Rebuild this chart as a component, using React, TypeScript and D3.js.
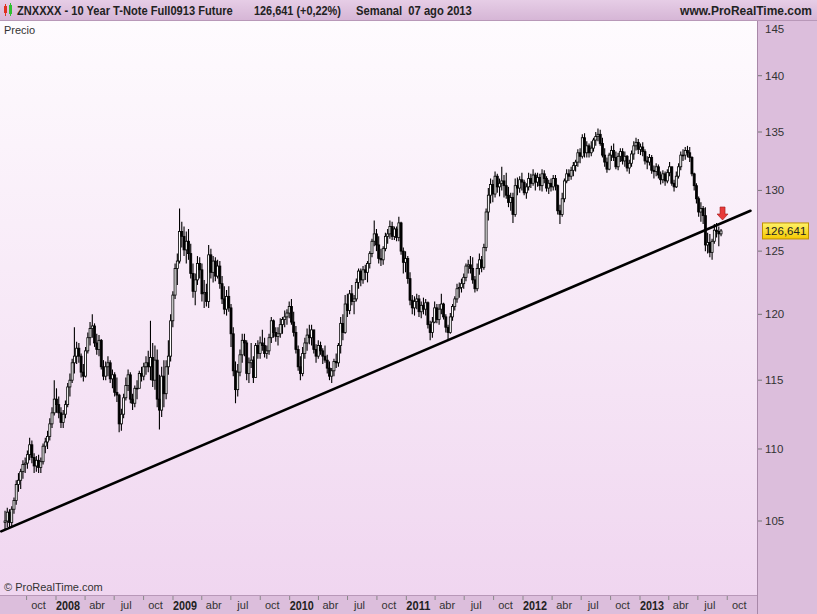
import React, { useLayoutEffect, useRef, useState } from 'react';
import * as d3 from 'd3';

// ---------- DATA (weekly bars, [high, low, close]) ----------
const firstWeek = '2007-06-18';
const firstOpen = 104.9;

const weeks2007: number[][] = [
  [105.7,104.4,105.0],[105.9,104.6,105.6],[105.8,104.5,104.9],[106.0,104.6,105.8],[106.6,105.5,106.4],
  [107.8,106.1,107.5],[108.3,107.0,107.8],[108.6,107.2,108.4],[109.2,107.9,108.9],[109.4,108.3,109.0],
  [109.9,108.6,109.6],[110.8,109.2,110.3],[110.6,109.0,109.4],[109.7,108.3,108.8],[109.5,108.4,109.2],
  [109.6,108.3,108.7],[109.4,108.3,109.1],[110.4,108.9,110.2],[110.8,109.7,110.5],[111.3,110.0,110.9],
  [112.2,110.6,111.8],[113.0,111.5,112.6],[115.0,112.4,113.6],[114.4,112.6,113.2],[113.8,112.2,112.6],
  [113.0,111.5,111.9],[112.8,111.5,112.5],[113.5,112.2,113.2],[114.8,113.0,114.5],
];
const weeks2008: number[][] = [
  [115.5,113.8,115.0],[116.6,114.8,116.3],[119.0,115.5,116.8],[117.9,116.2,117.4],
  [117.8,116.3,116.8],[117.0,115.2,115.6],[116.2,114.9,115.3],[117.5,115.2,117.2],
  [118.6,117.0,118.2],[119.4,117.6,118.9],[120.0,118.2,119.1],[119.3,117.5,117.8],[118.5,116.9,117.3],
  [118.4,116.8,118.0],[118.1,115.8,116.0],[116.5,115.0,115.3],[116.4,115.0,116.0],
  [116.8,115.3,116.3],[116.5,114.8,115.1],[115.8,114.4,115.4],[115.6,113.8,114.1],
  [115.2,113.4,113.9],[114.0,111.2,111.8],[112.9,111.3,112.5],[114.0,112.2,113.7],[115.2,113.5,114.6],
  [115.8,114.2,115.4],[115.6,113.3,113.6],[114.0,112.8,113.3],[114.6,113.0,114.4],
  [115.0,113.6,114.4],[115.7,114.4,115.5],[116.0,114.9,115.3],[116.3,115.0,116.0],
  [116.8,115.4,116.3],[117.2,115.6,116.0],[119.5,115.0,116.7],[117.8,114.5,115.0],[117.6,114.3,116.5],
  [117.3,113.0,113.6],[115.4,111.4,112.8],[116.0,112.3,115.3],[116.5,113.0,114.0],
  [116.5,113.6,116.0],[118.0,115.4,116.8],[120.0,116.4,119.5],[121.8,119.0,121.5],
  [124.0,121.2,123.6],[124.8,122.3,124.2],[128.5,124.0,126.6],[127.4,125.3,126.2],[127.0,124.6,125.1],
];
const weeks2009: number[][] = [
  [126.6,124.0,125.8],[126.8,124.3,124.8],[125.6,122.8,123.2],[124.0,121.3,121.8],
  [123.2,120.7,122.7],[124.6,122.3,124.0],[124.5,122.8,123.5],[124.0,121.0,121.6],
  [122.7,120.5,121.7],[122.4,120.6,121.0],[125.5,120.5,124.7],[125.2,122.8,123.3],[124.6,122.5,124.2],
  [124.5,122.6,123.0],[124.3,122.8,123.8],[124.2,122.0,122.4],[123.0,120.8,121.2],
  [122.2,120.0,120.4],[121.9,119.9,121.4],[122.2,120.2,120.5],[120.8,117.5,118.5],
  [119.0,115.3,115.7],[116.4,113.3,114.3],[116.2,113.8,115.6],[117.3,115.3,116.9],[118.5,116.3,118.0],
  [118.5,116.8,117.8],[118.0,115.0,115.5],[116.7,114.8,116.3],[117.8,115.9,116.5],
  [116.8,114.8,115.2],[117.8,115.2,117.6],[118.0,116.6,117.0],[118.3,116.6,117.8],[118.8,117.2,117.6],
  [118.2,116.7,117.0],[117.6,116.6,117.2],[118.5,116.9,118.2],[119.8,117.8,119.5],
  [119.6,118.2,118.6],[119.0,117.9,118.3],[119.0,117.6,118.5],[119.7,118.2,119.2],
  [119.8,118.5,119.6],[120.3,119.0,119.8],[120.4,119.2,120.1],[121.0,119.7,120.6],[121.2,119.2,119.4],
  [120.2,118.3,118.6],[119.1,117.0,117.3],[117.6,115.7,116.0],[116.8,115.0,115.5],
];
const weeks2010: number[][] = [
  [117.5,115.3,117.0],[118.2,116.6,117.8],[118.9,117.2,118.4],[119.2,117.7,118.2],
  [119.2,117.6,118.8],[118.7,117.0,117.3],[117.7,116.3,116.8],[118.0,116.6,117.6],
  [117.9,116.9,117.2],[117.4,116.2,116.8],[117.6,116.3,116.5],[116.9,115.5,115.9],[116.4,115.0,115.3],
  [115.9,114.8,115.7],[116.6,115.3,116.4],[117.0,115.9,116.3],[117.8,116.0,117.6],
  [119.8,117.0,119.3],[120.0,118.0,118.6],[121.5,118.5,120.8],[121.6,119.8,120.3],[121.9,120.0,121.6],
  [122.3,120.7,121.0],[121.5,120.0,121.2],[122.8,121.0,122.5],[123.6,122.0,123.4],
  [123.6,122.2,122.7],[123.8,122.4,123.5],[123.9,122.7,123.3],[124.2,122.5,124.0],
  [125.0,123.6,124.8],[126.0,124.5,125.8],[127.5,125.4,126.4],[126.8,125.0,125.5],[126.2,124.0,124.4],
  [125.2,123.8,124.3],[125.4,123.9,125.2],[126.5,125.0,126.2],[126.8,125.6,126.4],
  [127.5,126.0,127.0],[127.4,125.9,126.2],[127.0,125.9,126.8],[127.0,125.8,126.1],
  [127.8,125.8,127.3],[127.4,124.7,125.0],[125.3,123.2,124.1],[125.0,123.3,124.4],[124.6,122.4,122.8],
  [123.3,120.7,121.1],[121.5,120.0,120.5],[121.4,119.9,121.0],[121.6,120.4,121.2],
];
const weeks2011: number[][] = [
  [121.5,119.8,120.2],[121.0,119.7,120.7],[121.3,120.0,120.4],[121.2,119.9,120.9],[121.0,118.9,119.2],
  [119.5,118.0,118.6],[119.8,118.2,119.4],[121.0,119.3,120.5],[120.8,119.3,119.6],
  [120.8,119.2,120.4],[121.6,120.0,120.8],[120.9,119.6,119.8],[120.0,118.6,119.0],
  [119.2,118.0,118.6],[120.1,118.5,119.8],[120.8,119.5,120.6],[121.4,120.3,121.2],
  [122.4,120.9,122.0],[122.5,121.3,122.1],[122.8,121.7,122.4],[123.2,122.0,122.9],[124.0,122.6,123.8],
  [124.3,123.2,123.9],[124.6,123.2,123.6],[124.5,122.4,122.7],[123.0,121.7,122.0],
  [124.0,121.8,123.6],[124.8,123.1,124.3],[124.6,123.3,123.7],[125.6,123.5,125.3],
  [128.5,125.0,128.2],[130.2,127.5,129.6],[131.0,128.9,130.5],[130.9,129.0,129.7],[131.6,129.4,131.2],
  [131.4,129.8,130.3],[131.0,129.5,130.6],[132.0,130.0,130.8],[131.3,129.4,130.4],
  [131.5,129.3,129.6],[130.3,128.6,129.0],[129.8,128.3,129.4],[129.8,127.3,128.0],[131.0,127.8,130.4],
  [131.1,129.6,130.2],[131.2,129.8,130.9],[131.5,130.0,130.7],[130.9,129.6,129.8],
  [130.6,129.3,130.3],[131.5,130.0,131.0],[131.4,130.2,130.6],[131.8,130.4,131.3],
];
const weeks2012: number[][] = [
  [131.5,130.0,130.7],[131.5,130.3,131.1],[131.4,130.0,130.4],[131.8,129.9,131.4],[131.7,130.6,131.0],
  [131.2,129.9,130.2],[130.9,129.7,130.6],[131.0,129.9,130.3],[131.3,130.0,131.0],
  [131.3,130.0,130.4],[130.5,128.0,128.3],[128.8,127.2,128.0],[129.8,127.8,129.3],
  [131.0,129.0,130.8],[131.8,130.6,131.4],[131.8,130.8,131.2],[132.0,130.9,131.7],[132.4,131.2,132.1],
  [132.6,131.6,132.4],[133.5,132.0,133.2],[133.6,132.3,132.9],[134.8,132.7,134.5],
  [134.9,132.8,133.2],[134.2,132.8,133.8],[134.0,132.8,133.2],[134.2,132.9,133.6],
  [134.5,133.3,134.3],[135.0,133.8,134.6],[135.3,134.2,134.8],[135.2,133.8,134.0],[134.5,132.8,133.0],
  [133.6,132.0,132.4],[132.8,131.5,131.8],[133.2,131.7,133.0],[133.8,132.5,133.4],
  [134.0,132.5,132.8],[133.3,131.8,132.0],[133.2,131.7,132.9],[133.6,132.4,133.3],
  [133.6,132.2,132.5],[133.3,132.0,132.9],[133.0,131.6,131.9],[132.6,131.4,132.3],[133.4,132.0,133.1],
  [134.2,132.6,133.8],[134.5,133.4,134.1],[134.4,133.1,133.5],[134.0,133.0,133.7],
  [134.1,132.9,133.3],[133.5,132.2,132.5],[132.9,131.8,132.4],[133.1,132.1,132.8],[133.0,131.4,131.7],
];
const weeks2013: number[][] = [
  [132.1,131.0,131.6],[132.3,131.2,132.0],[132.2,131.0,131.3],[131.6,130.5,130.9],
  [131.7,130.6,131.4],[131.6,130.4,130.8],[131.8,130.6,131.5],[132.4,131.2,132.0],
  [132.0,130.4,130.6],[130.9,129.9,130.3],[131.6,130.2,131.2],[132.3,131.0,132.0],
  [133.3,131.7,133.0],[133.5,132.5,133.0],[133.7,132.6,133.4],[133.8,132.8,133.2],[133.7,132.4,132.8],
  [132.9,131.2,131.4],[131.5,130.0,130.4],[130.6,128.9,129.3],[129.5,127.8,128.2],
  [129.0,127.4,128.5],[128.7,127.2,127.9],[128.6,125.0,125.5],[126.5,124.8,125.7],
  [126.4,124.5,124.9],[126.0,124.3,125.8],[127.2,125.6,126.7],[127.3,126.1,126.6],[127.0,125.4,126.4],
  [126.8,126.2,126.641],
];

const trendDates = ['2007-06-06', '2013-11-05'];
const trendPrices = [104.3, 128.3];

const yTicks = [105, 110, 115, 120, 125, 130, 135, 140, 145];

const axisDates = [
  '2007-10-01','2008-01-01','2008-04-01','2008-07-01','2008-10-01','2009-01-01','2009-04-01','2009-07-01',
  '2009-10-01','2010-01-01','2010-04-01','2010-07-01','2010-10-01','2011-01-01','2011-04-01','2011-07-01',
  '2011-10-01','2012-01-01','2012-04-01','2012-07-01','2012-10-01','2013-01-01','2013-04-01','2013-07-01','2013-10-01',
];
const axisLabels = [
  'oct','2008','abr','jul','oct','2009','abr','jul','oct','2010','abr','jul','oct','2011','abr','jul',
  'oct','2012','abr','jul','oct','2013','abr','jul','oct',
];

const lastPrice = 126.641;
const lastPriceLabel = '126,641';
const titleMain = 'ZNXXXX - 10 Year T-Note Full0913 Future';
const titlePrice = '126,641 (+0,22%)';
const titleDate = 'Semanal  07 ago 2013';
const titleSite = 'www.ProRealTime.com';

// ---------- CHART ----------
const W = 817;
const H = 614;
const PLOT_R = 757;
const PLOT_T = 21;
const PLOT_B = 595;
const FONT = 'Liberation Sans, Arial, sans-serif';

// Text horizontally condensed (via a scale transform) to a target width
function FitText(props: { x: number; y: number; width: number; anchor?: 'start' | 'end' | 'middle'; size: number; bold?: boolean; fill?: string; children: string }) {
  const ref = useRef<SVGTextElement>(null);
  const [s, setS] = useState(1);
  useLayoutEffect(() => {
    if (ref.current) {
      const natural = ref.current.getComputedTextLength();
      if (natural > 0) setS(props.width / natural);
    }
  }, [props.children, props.width]);
  return (
    <text ref={ref}
      transform={`translate(${props.x},${props.y}) scale(${s},1)`}
      textAnchor={props.anchor || 'start'}
      fontFamily={FONT} fontSize={props.size} fontWeight={props.bold ? 'bold' : 'normal'}
      fill={props.fill || '#222'} style={{ whiteSpace: 'pre' }}>
      {props.children}
    </text>
  );
}

export default function App() {
  const rows = [...weeks2007, ...weeks2008, ...weeks2009, ...weeks2010, ...weeks2011, ...weeks2012, ...weeks2013];
  const start = new Date(firstWeek + 'T00:00:00Z');
  const bars = rows.map((r, i) => ({
    date: d3.utcDay.offset(start, 7 * i),
    open: i === 0 ? firstOpen : rows[i - 1][2],
    high: r[0],
    low: r[1],
    close: r[2],
  }));

  const x = d3.scaleUtc()
    .domain([new Date(Date.UTC(2008, 0, 1)), new Date(Date.UTC(2013, 0, 1))])
    .range([68, 652]);
  const y = d3.scaleLog().domain([105, 145]).range([521, 21.4]);

  const bw = 2.0;
  const lastBar = bars[bars.length - 1];
  const ax = x(lastBar.date) + 1.5;
  const atip = y(lastBar.high) - 9;

  return (
    <div style={{ position: 'absolute', left: 0, top: 0, width: W, height: H }}>
      <svg width={W} height={H} style={{ display: 'block' }}>
        <defs>
          <linearGradient id="plotBg" x1="0" y1="0" x2="0" y2="1">
            <stop offset="0" stopColor="#fefbfe" />
            <stop offset="1" stopColor="#f0d6f0" />
          </linearGradient>
          <linearGradient id="titleBg" x1="0" y1="0" x2="0" y2="1">
            <stop offset="0" stopColor="#e6cde6" />
            <stop offset="1" stopColor="#d6b6d6" />
          </linearGradient>
          <linearGradient id="priceBg" x1="0" y1="0" x2="0" y2="1">
            <stop offset="0" stopColor="#fff36a" />
            <stop offset="1" stopColor="#f5c800" />
          </linearGradient>
          <clipPath id="plotClip">
            <rect x={0} y={PLOT_T} width={PLOT_R} height={PLOT_B - PLOT_T} />
          </clipPath>
        </defs>

        {/* backgrounds */}
        <rect x={0} y={0} width={W} height={H} fill="#dcbedc" />
        <rect x={0} y={0} width={W} height={20} fill="url(#titleBg)" />
        <line x1={0} x2={W} y1={20.5} y2={20.5} stroke="#b898b8" />
        <rect x={0} y={PLOT_T} width={PLOT_R} height={PLOT_B - PLOT_T} fill="url(#plotBg)" />
        <line x1={PLOT_R + 0.5} x2={PLOT_R + 0.5} y1={PLOT_T} y2={H} stroke="#a888a8" />
        <line x1={0} x2={PLOT_R} y1={PLOT_B + 0.5} y2={PLOT_B + 0.5} stroke="#b898b8" />

        {/* title bar */}
        <rect x={4} y={6} width={3} height={7} fill="#e03020" />
        <line x1={5.5} x2={5.5} y1={4} y2={16} stroke="#e03020" strokeWidth={1} />
        <rect x={9} y={5} width={3} height={9} fill="#30c030" />
        <line x1={10.5} x2={10.5} y1={3} y2={16} stroke="#30c030" strokeWidth={1} />
        <FitText x={17} y={15} width={216} size={13} bold>{titleMain}</FitText>
        <FitText x={254} y={15} width={87} size={13} bold>{titlePrice}</FitText>
        <FitText x={356} y={15} width={116} size={13} bold>{titleDate}</FitText>
        <FitText x={812} y={15} width={132} size={13} bold anchor="end">{titleSite}</FitText>

        {/* plot texts */}
        <text x={4} y={34} fontFamily={FONT} fontSize={11} fill="#333">Precio</text>
        <text x={4} y={591} fontFamily={FONT} fontSize={11} fill="#333">© ProRealTime.com</text>

        {/* candles */}
        <g clipPath="url(#plotClip)">
          {bars.map((b, i) => {
            const cx = x(b.date);
            const up = b.close >= b.open;
            const top = y(Math.max(b.open, b.close));
            const bot = y(Math.min(b.open, b.close));
            return (
              <g key={i}>
                <line x1={cx} x2={cx} y1={y(b.high)} y2={y(b.low)} stroke="#000" strokeWidth={1.1} />
                <rect x={cx - bw / 2} y={top} width={bw} height={Math.max(bot - top, 0.8)}
                  fill={up ? '#ffffff' : '#000000'} stroke="#000" strokeWidth={0.8} />
              </g>
            );
          })}
          <line
            x1={x(new Date(trendDates[0] + 'T00:00:00Z'))} y1={y(trendPrices[0])}
            x2={x(new Date(trendDates[1] + 'T00:00:00Z'))} y2={y(trendPrices[1])}
            stroke="#000" strokeWidth={2.6} strokeLinecap="round" />
          {/* red arrow */}
          <path d={`M${ax - 2.5},${atip - 13} L${ax + 2.5},${atip - 13} L${ax + 2.5},${atip - 6} L${ax + 5.5},${atip - 6} L${ax},${atip} L${ax - 5.5},${atip - 6} L${ax - 2.5},${atip - 6} Z`}
            fill="#e83a3a" stroke="#a01818" strokeWidth={0.6} />
        </g>

        {/* right axis */}
        {yTicks.map((t) => {
          const ty = y(t);
          const ly = Math.max(ty, 29);
          return (
            <g key={t}>
              {ty > PLOT_T + 3 && <line x1={PLOT_R + 1} x2={PLOT_R + 5} y1={ty} y2={ty} stroke="#777" />}
              <text x={765} y={ly} dy="0.35em" fontFamily={FONT} fontSize={11.5} fill="#333">{t}</text>
            </g>
          );
        })}
        <rect x={762.5} y={y(lastPrice) - 8} width={46} height={16} fill="url(#priceBg)" stroke="#c09000" strokeWidth={1} />
        <text x={785.5} y={y(lastPrice)} dy="0.35em" textAnchor="middle" fontFamily={FONT} fontSize={11.5} fill="#222">{lastPriceLabel}</text>

        {/* bottom axis */}
        {axisDates.map((d, i) => {
          const tx = x(new Date(d + 'T00:00:00Z'));
          const isYear = /^\d{4}$/.test(axisLabels[i]);
          return (
            <g key={d}>
              <line x1={tx - 12} x2={tx - 12} y1={PLOT_B + 1} y2={PLOT_B + 5} stroke="#888" />
              {isYear ? (
                <FitText x={tx} y={610} width={24} size={13} bold anchor="middle">{axisLabels[i]}</FitText>
              ) : (
                <text x={tx} y={609} textAnchor="middle" fontFamily={FONT} fontSize={11} fill="#333">{axisLabels[i]}</text>
              )}
            </g>
          );
        })}
      </svg>
    </div>
  );
}
